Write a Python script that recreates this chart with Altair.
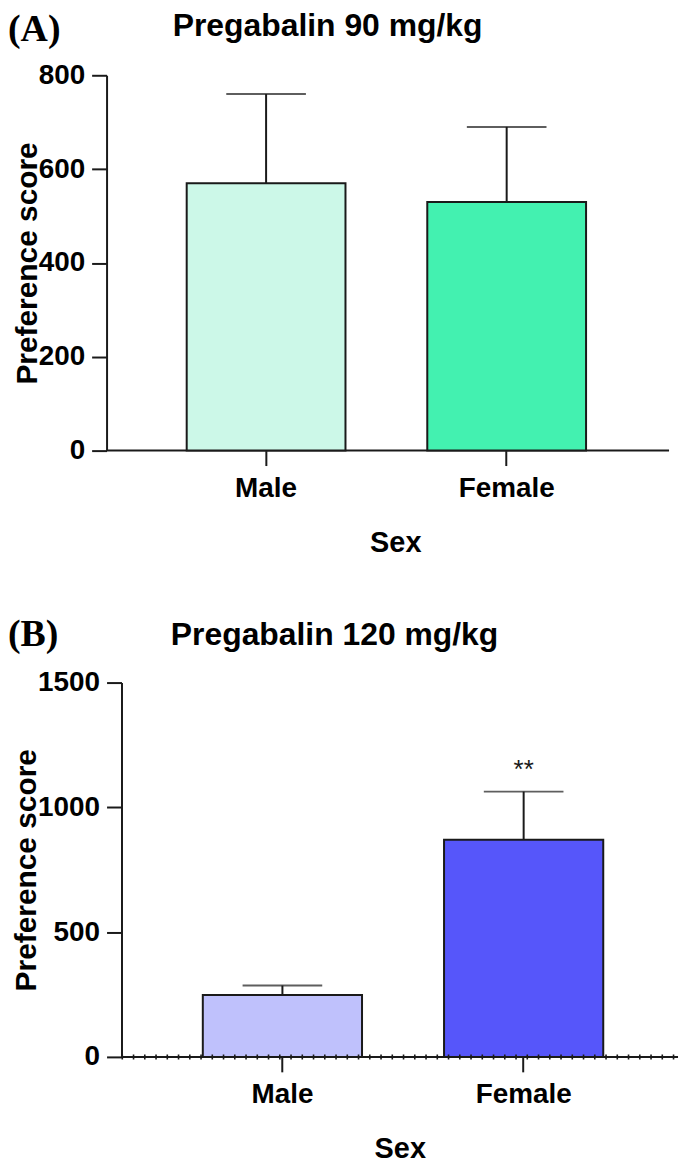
import altair as alt
import pandas as pd

# ---------------- data ----------------
sexes = ["Male", "Female"]

a_title = "Pregabalin 90 mg/kg"
a_tag = "(A)"
a_mean = [570, 530]
a_sem = [190, 160]
a_colors = ["#CCF8E8", "#43F1B0"]
a_ticks = [0, 200, 400, 600, 800]
a_sig = ["", ""]

b_title = "Pregabalin 120 mg/kg"
b_tag = "(B)"
b_mean = [248, 870]
b_sem = [38, 193]
b_colors = ["#BFC1FC", "#5656FA"]
b_ticks = [0, 500, 1000, 1500]
b_sig = ["", "**"]

SANS = "Liberation Sans, Arial, Helvetica, sans-serif"
SERIF = "Liberation Serif, Times New Roman, serif"
INK = "#1a1a1a"


def panel(mean, sem, colors, ticks, sig, tag, title, width, height,
          pad_outer, band_align, yoffset, tag_x, tag_y, title_x, title_y,
          minor=False):
    df = pd.DataFrame({
        "Sex": sexes,
        "mean": mean,
        "upper": [m + s for m, s in zip(mean, sem)],
        "color": colors,
        "sig": sig,
    })
    xs = alt.X(
        "Sex:N", sort=sexes,
        scale=alt.Scale(paddingInner=0.34, paddingOuter=pad_outer, align=band_align),
        axis=alt.Axis(
            title="Sex", labelAngle=0, labelFont=SANS, labelFontSize=28,
            labelFontWeight="bold", labelColor="black", labelPadding=9,
            tickSize=15, tickWidth=2, tickColor=INK,
            domain=False,
            titleFont=SANS, titleFontSize=29, titleFontWeight="bold",
            titleColor="black", titlePadding=26, grid=False,
        ),
    )
    ys = alt.Y(
        "mean:Q",
        scale=alt.Scale(domain=[ticks[0], ticks[-1]], nice=False),
        axis=alt.Axis(
            title="Preference score", values=ticks, format="d",
            offset=yoffset,
            labelFont=SANS, labelFontSize=28, labelFontWeight="bold",
            labelColor="black", labelPadding=7,
            tickSize=15, tickWidth=2, tickColor=INK,
            domainColor=INK, domainWidth=2,
            titleFont=SANS, titleFontSize=30, titleFontWeight="bold",
            titleColor="black", titlePadding=-4, grid=False,
        ),
    )
    base = alt.Chart(df)
    err = base.mark_rule(color=INK, strokeWidth=2).encode(
        x=xs, y=ys, y2="upper:Q")
    caps = base.mark_tick(color=INK, thickness=2, size=80).encode(
        x=xs, y=alt.Y("upper:Q"))
    bars = base.mark_bar(stroke=INK, strokeWidth=2).encode(
        x=xs, y=ys, color=alt.Color("color:N", scale=None, legend=None))
    stars = base.mark_text(font=SANS, fontSize=26, baseline="middle",
                           dy=-22, color=INK).encode(
        x=xs, y=alt.Y("upper:Q"), text="sig:N")
    # x baseline (extends left to meet the y axis)
    baseline = alt.Chart(pd.DataFrame({"z": [0]})).mark_rule(
        color=INK, strokeWidth=2).encode(
        y=alt.datum(0), x=alt.value(-yoffset), x2=alt.value(width))
    lab = alt.Chart(pd.DataFrame({"t": [tag]})).mark_text(
        font=SERIF, fontSize=38, fontWeight="bold", align="left",
        baseline="top", color="black").encode(
        text="t:N", x=alt.value(tag_x), y=alt.value(tag_y))
    ttl = alt.Chart(pd.DataFrame({"t": [title]})).mark_text(
        font=SANS, fontSize=32, fontWeight="bold", align="center",
        baseline="top", color="black").encode(
        text="t:N", x=alt.value(title_x), y=alt.value(title_y))
    layers = [baseline, err, caps, bars, stars, lab, ttl]
    if minor:
        dots = alt.Chart(pd.DataFrame({"z": [0]})).mark_rule(
            color=INK, strokeWidth=5, strokeDash=[1.6, 9.7]).encode(
            y=alt.datum(0), x=alt.value(0), x2=alt.value(width))
        layers.append(dots)
    return alt.layer(*layers).properties(width=width, height=height)


pa = panel(a_mean, a_sem, a_colors, a_ticks, a_sig, a_tag, a_title,
           550, 377, 0.308, 0.44, 15, -114, -64, 207, -64)
pb = panel(b_mean, b_sem, b_colors, b_ticks, b_sig, b_tag, b_title,
           559, 376, 0.3235, 0.521, 0, -114, -67, 214, -63, minor=True)

chart = alt.concat(pa, pb, columns=1, spacing=59).properties(
    padding=0
).configure_view(stroke=None)

chart.save("out.html", embed_options={"renderer": "svg", "actions": False})
